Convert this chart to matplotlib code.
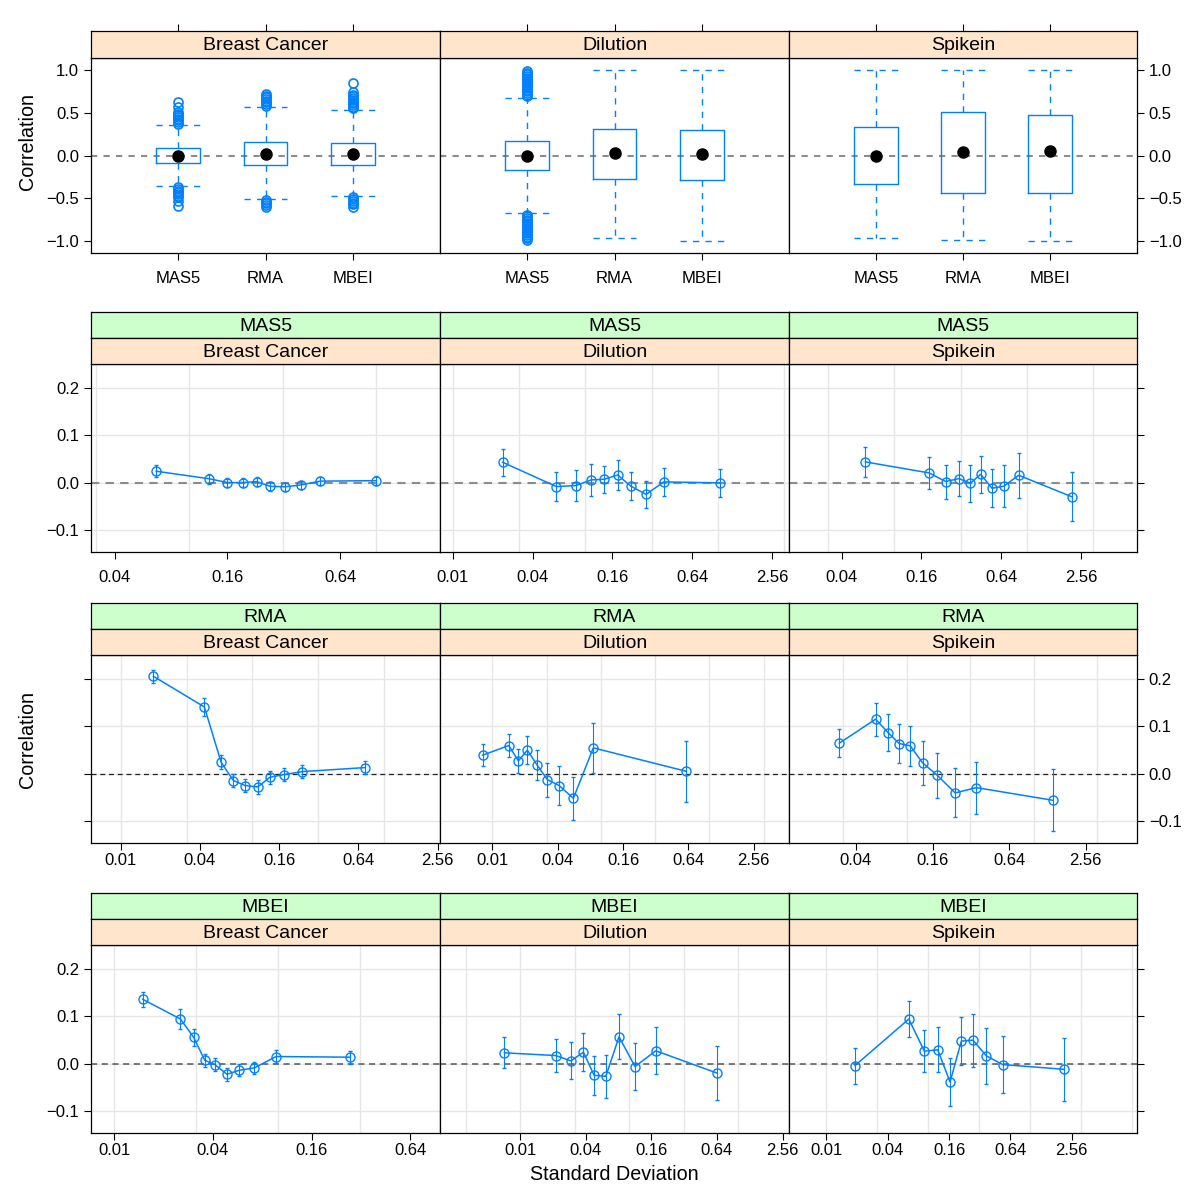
import numpy as np
import matplotlib
matplotlib.use("Agg")
import matplotlib.pyplot as plt

plt.rcParams["font.family"] = ["Liberation Sans", "DejaVu Sans"]

# ------------------------------------------------------------
#  data
# ------------------------------------------------------------
datasets = ["Breast Cancer", "Dilution", "Spikein"]
methods = ["MAS5", "RMA", "MBEI"]

# boxplot summaries (top row), one list per dataset, order MAS5, RMA, MBEI
bc_med = [0.0, 0.02, 0.02]
bc_q1 = [-0.09, -0.113, -0.113]
bc_q3 = [0.09, 0.162, 0.152]
bc_lo = [-0.351, -0.507, -0.476]
bc_hi = [0.351, 0.565, 0.534]
bc_out = [
    [0.37, 0.39, 0.41, 0.43, 0.45, 0.47, 0.49, 0.51, 0.57, 0.63,
     -0.37, -0.39, -0.41, -0.43, -0.45, -0.47, -0.49, -0.53, -0.59],
    [0.58, 0.60, 0.62, 0.64, 0.66, 0.68, 0.70, 0.72,
     -0.52, -0.54, -0.56, -0.58, -0.60],
    [0.55, 0.57, 0.59, 0.61, 0.63, 0.65, 0.67, 0.69, 0.71, 0.74, 0.85,
     -0.49, -0.51, -0.53, -0.55, -0.57, -0.60],
]

dil_med = [0.0, 0.03, 0.02]
dil_q1 = [-0.175, -0.277, -0.285]
dil_q3 = [0.172, 0.312, 0.30]
dil_lo = [-0.678, -0.963, -1.0]
dil_hi = [0.674, 1.0, 1.0]
dil_out = [
    [0.69, 0.71, 0.73, 0.75, 0.77, 0.79, 0.81, 0.83, 0.85, 0.87,
     0.89, 0.91, 0.93, 0.95, 0.97, 0.99,
     -0.69, -0.71, -0.73, -0.75, -0.77, -0.79, -0.81, -0.83, -0.85,
     -0.87, -0.89, -0.91, -0.93, -0.95, -0.97, -0.99],
    [],
    [],
]

spk_med = [0.0, 0.043, 0.047]
spk_q1 = [-0.335, -0.437, -0.437]
spk_q3 = [0.339, 0.507, 0.476]
spk_lo = [-0.967, -0.986, -1.0]
spk_hi = [0.994, 1.0, 1.0]
spk_out = [[], [], []]

# correlation vs standard deviation, rows MAS5 / RMA / MBEI
mas5_bc_sd = [0.0665, 0.128, 0.160, 0.194, 0.229, 0.271, 0.325, 0.396, 0.50, 1.0]
mas5_bc_r = [0.024, 0.008, 0.0, 0.0, 0.002, -0.008, -0.009, -0.005, 0.003, 0.004]
mas5_bc_e = [0.013, 0.010, 0.009, 0.009, 0.009, 0.009, 0.009, 0.009, 0.009, 0.009]

mas5_dil_sd = [0.0237, 0.0604, 0.0848, 0.1106, 0.139, 0.175, 0.221, 0.287, 0.390, 1.043]
mas5_dil_r = [0.043, -0.0085, -0.0063, 0.0056, 0.007, 0.016, -0.0078, -0.025, 0.0014, -0.0007]
mas5_dil_e = [0.029, 0.030, 0.033, 0.033, 0.029, 0.031, 0.030, 0.028, 0.030, 0.030]

mas5_spk_sd = [0.0604, 0.183, 0.244, 0.307, 0.374, 0.448, 0.545, 0.668, 0.867, 2.18]
mas5_spk_r = [0.0437, 0.0204, 0.0021, 0.0085, -0.0014, 0.0176, -0.012, -0.0078, 0.0155, -0.030]
mas5_spk_e = [0.031, 0.033, 0.036, 0.038, 0.039, 0.039, 0.040, 0.044, 0.048, 0.052]

rma_bc_sd = [0.0177, 0.0432, 0.0579, 0.0718, 0.0884, 0.110, 0.136, 0.175, 0.240, 0.723]
rma_bc_r = [0.206, 0.141, 0.024, -0.0148, -0.0254, -0.0283, -0.0078, -0.002, 0.0042, 0.0127]
rma_bc_e = [0.014, 0.020, 0.015, 0.014, 0.014, 0.014, 0.014, 0.014, 0.014, 0.014]

rma_dil_sd = [0.00814, 0.01416, 0.01736, 0.0210, 0.0259, 0.0321, 0.0412, 0.0558, 0.0852, 0.609]
rma_dil_r = [0.0389, 0.0594, 0.0269, 0.0495, 0.0177, -0.0127, -0.0254, -0.0523, 0.0544, 0.0049]
rma_dil_e = [0.023, 0.025, 0.026, 0.029, 0.032, 0.036, 0.041, 0.045, 0.053, 0.065]

rma_spk_sd = [0.0296, 0.0571, 0.0714, 0.0876, 0.1068, 0.1337, 0.174, 0.241, 0.353, 1.406]
rma_spk_r = [0.0643, 0.1152, 0.0869, 0.0636, 0.0587, 0.0226, -0.0035, -0.041, -0.0297, -0.0565]
rma_spk_e = [0.030, 0.035, 0.039, 0.042, 0.043, 0.046, 0.048, 0.052, 0.055, 0.066]

mbei_bc_sd = [0.01496, 0.0254, 0.0306, 0.0357, 0.0414, 0.0487, 0.0580, 0.0716, 0.0972, 0.275]
mbei_bc_r = [0.136, 0.0943, 0.0553, 0.0071, -0.0028, -0.0227, -0.0142, -0.0092, 0.0149, 0.0135]
mbei_bc_e = [0.016, 0.021, 0.018, 0.014, 0.014, 0.014, 0.013, 0.013, 0.013, 0.014]

mbei_dil_sd = [0.00718, 0.0212, 0.0292, 0.0381, 0.0477, 0.0611, 0.0808, 0.1133, 0.1756, 0.636]
mbei_dil_r = [0.0227, 0.017, 0.0057, 0.0241, -0.0248, -0.027, 0.0567, -0.0064, 0.027, -0.0199]
mbei_dil_e = [0.033, 0.035, 0.039, 0.040, 0.041, 0.046, 0.048, 0.049, 0.050, 0.057]

mbei_spk_sd = [0.0191, 0.0645, 0.0916, 0.124, 0.1638, 0.2114, 0.275, 0.372, 0.538, 2.14]
mbei_spk_r = [-0.0043, 0.0943, 0.0262, 0.0291, -0.039, 0.0475, 0.0496, 0.0163, -0.0021, -0.0121]
mbei_spk_e = [0.038, 0.039, 0.045, 0.048, 0.051, 0.051, 0.056, 0.059, 0.061, 0.067]

sd_ticks = [0.01, 0.04, 0.16, 0.64, 2.56]
sd_ticklabels = ["0.01", "0.04", "0.16", "0.64", "2.56"]
box_yticks = [-1.0, -0.5, 0.0, 0.5, 1.0]
box_yticklabels = ["\u22121.0", "\u22120.5", "0.0", "0.5", "1.0"]
cor_yticks = [-0.1, 0.0, 0.1, 0.2]
cor_yticklabels = ["\u22120.1", "0.0", "0.1", "0.2"]

# ------------------------------------------------------------
#  layout (pixels of a 1200 x 1200 canvas)
# ------------------------------------------------------------
W = H = 1200
BLUE = "#0080ff"
ORANGE = "#ffe5cc"
GREEN = "#ccffcc"
GRID = "#e6e6e6"
TICKFS = 12
STRIPFS = 14
LABFS = 14.2

cols = [(91, 440), (440, 789), (789, 1137)]


def rect(x0, y0, x1, y1):
    return [x0 / W, 1 - y1 / H, (x1 - x0) / W, (y1 - y0) / H]


def strip(x0, x1, y0, y1, text, color):
    s = fig.add_axes(rect(x0, y0, x1, y1))
    s.set_facecolor(color)
    s.set_xticks([])
    s.set_yticks([])
    for sp in s.spines.values():
        sp.set_linewidth(0.9)
    s.text(0.5, 0.45, text, ha="center", va="center", fontsize=STRIPFS,
           transform=s.transAxes)
    return s


fig = plt.figure(figsize=(12, 12), dpi=100)

# ------------------------------------------------------------
#  top row: boxplots
# ------------------------------------------------------------
box_sets = [
    (bc_med, bc_q1, bc_q3, bc_lo, bc_hi, bc_out),
    (dil_med, dil_q1, dil_q3, dil_lo, dil_hi, dil_out),
    (spk_med, spk_q1, spk_q3, spk_lo, spk_hi, spk_out),
]

DASH = (0, (4.5, 4.5))

for j, (med, q1, q3, lo, hi, out) in enumerate(box_sets):
    x0, x1 = cols[j]
    ax = fig.add_axes(rect(x0, 58, x1, 253))
    stats = []
    for k in range(3):
        stats.append(dict(med=med[k], q1=q1[k], q3=q3[k], whislo=lo[k],
                          whishi=hi[k], fliers=out[k]))
    ax.axhline(0, color="#8c8c8c", ls=(0, (3, 3)), lw=1.5, zorder=0)
    ax.bxp(stats, positions=[1, 2, 3], widths=0.5, capwidths=0.5,
           showfliers=True, manage_ticks=False,
           boxprops=dict(color=BLUE, lw=1),
           whiskerprops=dict(color=BLUE, lw=1, ls=DASH),
           capprops=dict(color=BLUE, lw=1, ls=DASH),
           medianprops=dict(lw=0),
           flierprops=dict(marker="o", mfc="none", mec=BLUE, ms=6.5, mew=1.2))
    ax.plot([1, 2, 3], med, "o", color="black", ms=8, zorder=5)
    ax.set_xlim(0, 4)
    ax.set_ylim(-1.14, 1.14)
    ax.set_xticks([1, 2, 3])
    ax.set_xticklabels(methods)
    ax.set_yticks(box_yticks)
    ax.set_yticklabels(box_yticklabels)
    ax.tick_params(direction="out", length=5, width=0.8, labelsize=TICKFS)
    ax.tick_params(axis="x", pad=8)
    ax.tick_params(axis="y", left=(j == 0), labelleft=(j == 0),
                   right=(j == 2), labelright=(j == 2))
    for sp in ax.spines.values():
        sp.set_linewidth(0.9)

    s = strip(x0, x1, 31, 58, datasets[j], ORANGE)
    s.set_xlim(0, 4)
    s.xaxis.tick_top()
    s.set_xticks([1, 2, 3])
    s.set_xticklabels([])
    s.tick_params(axis="x", direction="out", length=5, width=0.8)

fig.text(27 / W, 1 - 142 / H, "Correlation", rotation=90, ha="center",
         va="center", fontsize=LABFS)

# ------------------------------------------------------------
#  rows 2-4: correlation vs standard deviation
# ------------------------------------------------------------
rows = [
    ("MAS5", 312, [(mas5_bc_sd, mas5_bc_r, mas5_bc_e),
                   (mas5_dil_sd, mas5_dil_r, mas5_dil_e),
                   (mas5_spk_sd, mas5_spk_r, mas5_spk_e)]),
    ("RMA", 603, [(rma_bc_sd, rma_bc_r, rma_bc_e),
                  (rma_dil_sd, rma_dil_r, rma_dil_e),
                  (rma_spk_sd, rma_spk_r, rma_spk_e)]),
    ("MBEI", 893, [(mbei_bc_sd, mbei_bc_r, mbei_bc_e),
                   (mbei_dil_sd, mbei_dil_r, mbei_dil_e),
                   (mbei_spk_sd, mbei_spk_r, mbei_spk_e)]),
]

# x ranges of each panel (free scales)
xlims = [
    [(0.0298, 2.19), (0.00799, 3.44), (0.0160, 6.78)],
    [(0.00594, 2.67), (0.00329, 5.42), (0.01191, 6.47)],
    [(0.00724, 0.969), (0.00184, 2.93), (0.00430, 11.2)],
]
zero_style = [("#8c8c8c", 1.5), ("#222222", 0.9), ("#555555", 1.1)]
label_pad = [8, 2, 2]
ylab_side = ["left", "right", "left"]

for i, (meth, top, panels) in enumerate(rows):
    p0 = top + 52
    p1 = p0 + 188
    for j, (sd, r, e) in enumerate(panels):
        x0, x1 = cols[j]
        ax = fig.add_axes(rect(x0, p0, x1, p1))
        ax.set_xscale("log", base=2)
        lo, hi = xlims[i][j]
        ax.set_xlim(lo, hi)
        ax.set_ylim(-0.147, 0.251)

        # light grid: every half decade and at the y ticks
        for k in range(-8, 4):
            g = 10 ** (k / 2)
            if lo < g < hi:
                ax.axvline(g, color=GRID, lw=1, zorder=0)
        for yv in cor_yticks:
            ax.axhline(yv, color=GRID, lw=1, zorder=0)
        c, w = zero_style[i]
        ax.axhline(0, color=c, ls=(0, (4, 3)), lw=w, zorder=1)

        ax.errorbar(sd, r, yerr=e, fmt="-o", color=BLUE, mfc="none", ms=6.5,
                    mew=1, lw=1.1, elinewidth=0.8, capsize=1.3,
                    capthick=0.8, zorder=3)

        ticks = [t for t in sd_ticks if lo <= t <= hi]
        labs = [sd_ticklabels[sd_ticks.index(t)] for t in ticks]
        ax.xaxis.set_minor_locator(matplotlib.ticker.NullLocator())
        ax.set_xticks(ticks)
        ax.set_xticklabels(labs)
        ax.set_yticks(cor_yticks)
        ax.set_yticklabels(cor_yticklabels)
        ax.tick_params(direction="out", length=5, width=0.8, labelsize=TICKFS)
        ax.tick_params(axis="x", pad=label_pad[i])
        side = ylab_side[i]
        ax.tick_params(axis="y", left=(j == 0), right=(j == 2),
                       labelleft=(j == 0 and side == "left"),
                       labelright=(j == 2 and side == "right"))
        for sp in ax.spines.values():
            sp.set_linewidth(0.9)

        strip(x0, x1, top, top + 26, meth, GREEN)
        strip(x0, x1, top + 26, p0, datasets[j], ORANGE)

fig.text(27 / W, 1 - 739 / H, "Correlation", rotation=90, ha="center",
         va="center", fontsize=LABFS)
fig.text(614 / W, 1 - 1174 / H, "Standard Deviation", ha="center",
         va="center", fontsize=LABFS)

fig.savefig("out.png", dpi=100, facecolor="white")
